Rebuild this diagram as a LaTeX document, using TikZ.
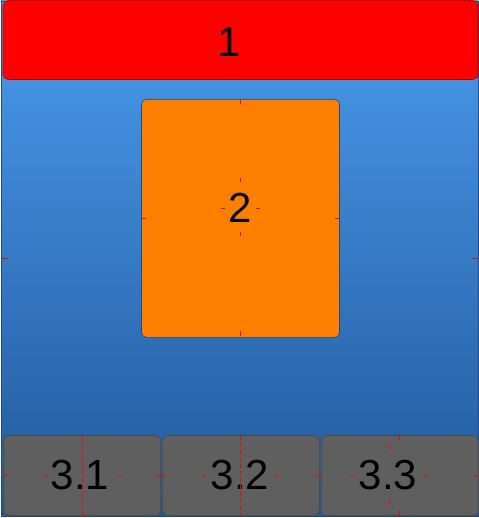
\documentclass[tikz,border=0pt]{standalone}
\usepackage{fontspec}
\setmainfont{Liberation Sans}
\definecolor{skytop}{HTML}{4A9CEE}
\definecolor{skybot}{HTML}{21589A}
\definecolor{frameblue}{HTML}{1C4C88}
\definecolor{boxorange}{HTML}{FF8000}
\definecolor{boxgray}{HTML}{5F5F5F}
\definecolor{edgegray}{HTML}{4A4A4A}
\begin{document}
\begin{tikzpicture}[x=1pt,y=-1pt,
  panel/.style={draw=frameblue, line width=0.8pt, top color=skytop, bottom color=skybot, minimum width=477pt, minimum height=515pt, inner sep=0pt},
  card/.style={rounded corners=5pt, inner sep=0pt, line width=0.6pt},
  graycard/.style={card, fill=boxgray, draw=edgegray, minimum width=157pt, minimum height=80pt},
  lbl/.style={font=\fontsize{42}{42}\selectfont, text=black, inner sep=0pt},
  tick/.style={draw=red, line width=0.9pt},
  dline/.style={draw=red, line width=0.9pt, dash pattern=on 4pt off 3pt}
]
\useasboundingbox (0,0) rectangle (478,518);
\fill[white] (0,0) rectangle (478,518);
\node[panel] (frame) at (239.5,258.5) {};
\node[card, fill=red, draw=red!70!black, minimum width=475pt, minimum height=79pt] (b1) at (240.5,40) {};
\node[card, fill=boxorange, draw=frameblue, minimum width=198pt, minimum height=238pt] (b2) at (240.5,218.3) {};
\node[graycard] (b31) at (82.2,475.5) {};
\node[graycard] (b32) at (240.8,475.5) {};
\node[graycard] (b33) at (399.8,475.5) {};
\node[lbl] (t1) at (229,42) {1};
\node[lbl] (t2) at (240,208) {2};
\node[lbl] (t31) at (80,475) {3.1};
\node[lbl] (t32) at (240,475) {3.2};
\node[lbl] (t33) at (388,475) {3.3};
% outer frame ticks
\draw[tick] (2,258) -- (8,258);
\draw[tick] (472,258) -- (478,258);
% box 2 ticks
\draw[tick] (240,100) -- (240,104);
\draw[tick] (240,331) -- (240,336);
\draw[tick] (142,218) -- (146,218);
\draw[tick] (335,218) -- (339,218);
\draw[tick] (240,178) -- (240,182);
\draw[tick] (240,232) -- (240,236);
\draw[tick] (221,208) -- (225,208);
\draw[tick] (256,208) -- (260,208);
% box 3.1 marks
\draw[dline] (82,436) -- (82,518);
\draw[tick] (3,475) -- (8,475);
\draw[tick] (44,475) -- (48,475);
\draw[tick] (118,475) -- (122,475);
\draw[tick] (157,475) -- (166,475);
% box 3.2 marks
\draw[dline] (240,436) -- (240,518);
\draw[tick] (202,475) -- (206,475);
\draw[tick] (275,475) -- (279,475);
\draw[tick] (315,475) -- (323,475);
% box 3.3 marks
\draw[tick] (399,435) -- (399,440);
\draw[tick] (399,510) -- (399,516);
\draw[tick] (389,445) -- (389,450);
\draw[tick] (389,500) -- (389,505);
\draw[tick] (350,475) -- (354,475);
\draw[tick] (423,475) -- (427,475);
\draw[tick] (474,475) -- (478,475);
\end{tikzpicture}
\end{document}
